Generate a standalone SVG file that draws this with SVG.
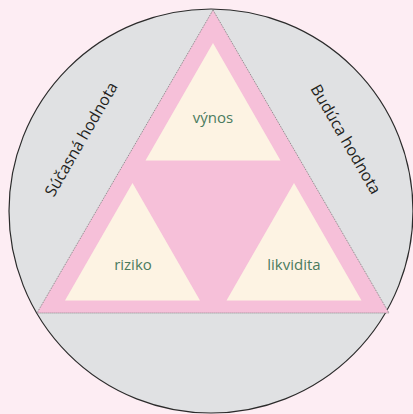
<svg xmlns="http://www.w3.org/2000/svg" width="413" height="414" viewBox="0 0 413 414">
<style>
.inner{fill:#fdf3e3}
.lbl{font-family:"Open Sans","Liberation Sans",sans-serif;font-size:15px;fill:#4b7b5e;text-anchor:middle}
.side{font-family:"Open Sans","Liberation Sans",sans-serif;font-size:16px;fill:#231f20;text-anchor:middle}
</style>
<rect width="413" height="414" fill="#fdedf3"/>
<g id="circle">
<circle cx="211" cy="211" r="202" fill="#e0e1e3" stroke="#2b2b2b" stroke-width="1.2"/>
</g>
<g id="outer-triangle">
<polygon points="213,10 389,313 37,313" fill="#f6c0d9" stroke="#7a7a7a" stroke-width="0.9" stroke-dasharray="1,1"/>
</g>
<g id="vynos">
<polygon class="inner" points="213,43 280.5,160.5 145.5,160.5"/>
<text class="lbl" x="213" y="123">výnos</text>
</g>
<g id="riziko">
<polygon class="inner" points="132.5,183 200,300.5 65,300.5"/>
<text class="lbl" x="133" y="270">riziko</text>
</g>
<g id="likvidita">
<polygon class="inner" points="294,183 361.5,300.5 226.5,300.5"/>
<text class="lbl" x="294" y="270">likvidita</text>
</g>
<g id="sucasna">
<text class="side" transform="translate(86,142) rotate(-60)">Súčasná hodnota</text>
</g>
<g id="buduca">
<text class="side" transform="translate(341,142) rotate(60)">Budúca hodnota</text>
</g>
</svg>
